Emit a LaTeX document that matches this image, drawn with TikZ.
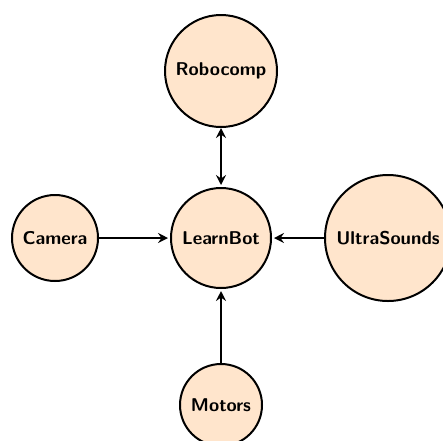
\documentclass[tikz,border=0pt]{standalone}
\usepackage{fontspec}
\usetikzlibrary{arrows.meta}
\definecolor{peach}{RGB}{255,229,204}
\tikzset{
  blob/.style={circle, draw=black, fill=peach, line width=2pt, inner sep=0pt, outer sep=0pt,
    font=\fontsize{18.5}{22}\selectfont\sffamily\bfseries},
  tip/.style={},
  link/.style={line width=2pt, -{Stealth[length=10pt,width=10pt,inset=3.5pt]}, shorten >=3pt},
  dlink/.style={line width=2pt, {Stealth[length=10pt,width=10pt,inset=3.5pt]}-{Stealth[length=10pt,width=10pt,inset=3.5pt]}, shorten >=3pt, shorten <=1pt}
}
\begin{document}
\begin{tikzpicture}[x=1pt,y=-1pt]
\path[use as bounding box, clip] (0,0) rectangle (443,440);
\node[blob, minimum size=112pt] (robocomp) at (221,71) {Robocomp};
\node[blob, minimum size=100pt] (learnbot) at (221,238) {LearnBot};
\node[blob, minimum size=86pt] (camera) at (55,238) {Camera};
\node[blob, minimum size=126pt] (ultra) at (388,238) {UltraSounds};
\node[blob, minimum size=82pt] (motors) at (221,405) {Motors};
\draw[dlink] (robocomp) -- (learnbot);
\draw[link] (camera) -- (learnbot);
\draw[link] (ultra) -- (learnbot);
\draw[link] (motors) -- (learnbot);
\end{tikzpicture}
\end{document}
